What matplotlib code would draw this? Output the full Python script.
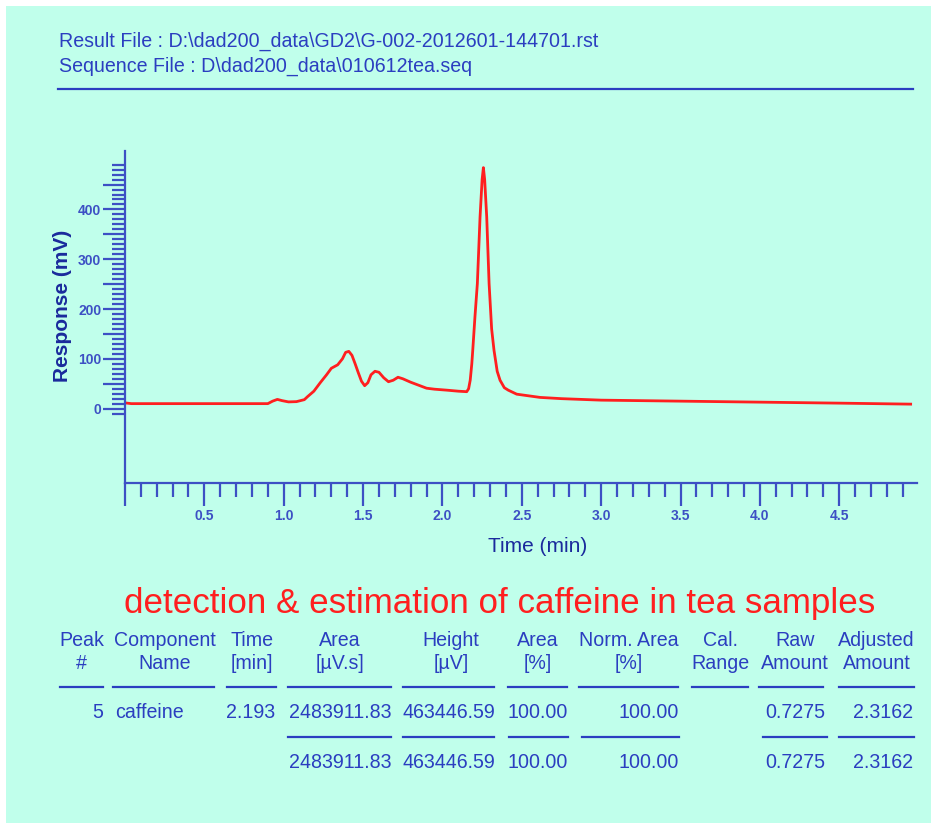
import matplotlib
matplotlib.use("Agg")
import matplotlib.pyplot as plt
from matplotlib.lines import Line2D
from matplotlib.patches import Rectangle

# ---------------- data ----------------
time_min = [0.00, 0.04, 0.90, 0.93, 0.96, 0.99, 1.03, 1.08, 1.13, 1.15, 1.19, 1.23,
            1.27, 1.30, 1.34, 1.37, 1.39, 1.41, 1.43, 1.45, 1.47, 1.49, 1.51, 1.53,
            1.55, 1.575, 1.60, 1.63, 1.66, 1.69, 1.72, 1.75, 1.80, 1.85, 1.90, 1.95,
            2.03, 2.10, 2.153, 2.165, 2.175, 2.185, 2.191, 2.205, 2.220, 2.237, 2.250,
            2.258, 2.266, 2.279, 2.294, 2.310, 2.325, 2.345, 2.363, 2.39, 2.415, 2.468,
            2.615, 2.75, 3.0, 3.5, 4.0, 4.5, 4.95]
response_mv = [11.5, 10, 10, 15, 18.5, 16, 13.5, 14, 18, 24, 35, 52,
               68, 81, 88, 100, 113, 115, 107, 90, 72, 55, 46, 52,
               68, 75, 73, 62, 54, 57, 63, 60, 53, 47, 41, 39,
               37, 35, 34, 40, 57, 90, 117, 185, 251, 385, 460,
               484, 460, 385, 251, 160, 117, 75, 57, 42, 37, 29,
               22.5, 20, 17, 15, 13, 11, 9]

x_major_labels = ["0.5", "1.0", "1.5", "2.0", "2.5", "3.0", "3.5", "4.0", "4.5"]
y_major_labels = ["0", "100", "200", "300", "400"]

header_lines = ["Result File : D:\\dad200_data\\GD2\\G-002-2012601-144701.rst",
                "Sequence File : D\\dad200_data\\010612tea.seq"]
title_text = "detection & estimation of caffeine in tea samples"

col_head1 = ["Peak", "Component", "Time", "Area", "Height", "Area", "Norm. Area", "Cal.", "Raw", "Adjusted"]
col_head2 = ["#", "Name", "[min]", "[\u00b5V.s]", "[\u00b5V]", "[%]", "[%]", "Range", "Amount", "Amount"]
row_values = ["5", "caffeine", "2.193", "2483911.83", "463446.59", "100.00", "100.00", "", "0.7275", "2.3162"]
total_values = ["", "", "", "2483911.83", "463446.59", "100.00", "100.00", "", "0.7275", "2.3162"]

# ---------------- style ----------------
W, H = 931, 823
BG = "#c0ffeb"
BLUE = "#2b3ec0"
AXBLUE = "#3d50c4"
NAVY = "#1a2a9c"
RED = "#ff1f1f"
FONT = "Liberation Sans"

fig = plt.figure(figsize=(W / 100, H / 100), dpi=100)
fig.patch.set_facecolor("white")

# overlay axes in pixel coordinates
ov = fig.add_axes([0, 0, 1, 1])
ov.set_xlim(0, W)
ov.set_ylim(H, 0)
ov.axis("off")
ov.add_patch(Rectangle((6, 6), W - 6, H - 6, facecolor=BG, edgecolor="none", zorder=0))

# header
ov.text(59, 41, header_lines[0], fontsize=14.1, color=BLUE, family=FONT, va="center", ha="left")
ov.text(59, 66, header_lines[1], fontsize=14.1, color=BLUE, family=FONT, va="center", ha="left")
ov.add_line(Line2D([58, 913], [89.3, 89.3], color=BLUE, lw=1.6))

# title
ov.text(500, 603, title_text, fontsize=25.2, color=RED, family=FONT, va="center", ha="center")

# table geometry (pixels)
head_centers = [81.7, 165, 252, 340, 451, 537.3, 629, 720, 795, 876.7]
line_spans = [(60, 103.3), (113.3, 214), (227.3, 276), (288.3, 390.7), (403.3, 494),
              (508.3, 566.7), (579.3, 678.3), (692.3, 747.7), (759.3, 823.3), (839.3, 914)]
total_spans = [None, None, None, (288.3, 390.7), (403.3, 494), (509, 568), (581.7, 679),
               None, (762.7, 826.7), (839.3, 914)]
data_x = [103.3, 115, 275, 391.7, 495, 568.3, 679, None, 825, 913.3]
data_ha = ["right", "left", "right", "right", "right", "right", "right", "right", "right", "right"]
TFS = 14.1
for i in range(len(col_head1)):
    ov.text(head_centers[i], 640, col_head1[i], fontsize=TFS, color=BLUE, family=FONT, ha="center", va="center")
    ov.text(head_centers[i], 663.5, col_head2[i], fontsize=TFS, color=BLUE, family=FONT, ha="center", va="center")
    a, b = line_spans[i]
    ov.add_line(Line2D([a, b], [687, 687], color=BLUE, lw=1.6))
    if total_spans[i] is not None:
        a, b = total_spans[i]
        ov.add_line(Line2D([a, b], [737, 737], color=BLUE, lw=1.6))
    if data_x[i] is not None:
        ov.text(data_x[i], 712, row_values[i], fontsize=TFS, color=BLUE, family=FONT, ha=data_ha[i], va="center")
        if total_values[i]:
            ov.text(data_x[i], 762, total_values[i], fontsize=TFS, color=BLUE, family=FONT, ha=data_ha[i], va="center")

# ---------------- chart axes ----------------
L, R, T, B = 125, 917, 150.7, 483.3
ax = fig.add_axes([L / W, 1 - B / H, (R - L) / W, (B - T) / H])
ax.set_facecolor("none")
ax.set_xlim(0, 4.99)
ax.set_ylim(-150, 518)
ax.plot(time_min, response_mv, color=RED, lw=2.0, solid_joinstyle="round")

for s in ["top", "right"]:
    ax.spines[s].set_visible(False)
for s in ["left", "bottom"]:
    ax.spines[s].set_color(AXBLUE)
    ax.spines[s].set_linewidth(1.6)

xmaj = [0.5 * k for k in range(0, 10)]
xmin = [0.1 * k for k in range(1, 50) if k % 5 != 0]
ax.set_xticks(xmaj)
ax.set_xticklabels([""] + x_major_labels)
ax.set_xticks(xmin, minor=True)
ymaj = [50 * k for k in range(0, 10)]
ymin = [10 * k for k in range(-1, 50) if k % 5 != 0]
ax.set_yticks(ymaj)
ax.set_yticklabels([y_major_labels[k // 2] if k % 2 == 0 else "" for k in range(0, 10)])
ax.set_yticks(ymin, minor=True)

ax.tick_params(axis="x", which="major", direction="out", length=16.5, width=1.6, color=AXBLUE,
               labelcolor=AXBLUE, labelsize=10, pad=2)
ax.tick_params(axis="x", which="minor", direction="out", length=10, width=1.6, color=AXBLUE)
ax.tick_params(axis="y", which="major", direction="out", length=16, width=1.6, color=AXBLUE,
               labelcolor=AXBLUE, labelsize=10, pad=1)
ax.tick_params(axis="y", which="minor", direction="out", length=9.5, width=1.6, color=AXBLUE)
for lab in ax.get_xticklabels() + ax.get_yticklabels():
    lab.set_family(FONT)
    lab.set_fontweight("bold")

ov.text(538, 547, "Time (min)", fontsize=15, color=NAVY, family=FONT, ha="center", va="center")
ov.text(62, 305.5, "Response (mV)", fontsize=15, color=NAVY, family=FONT, weight="bold",
        ha="center", va="center", rotation=90)

fig.savefig("out.png", dpi=100, facecolor=fig.get_facecolor())
